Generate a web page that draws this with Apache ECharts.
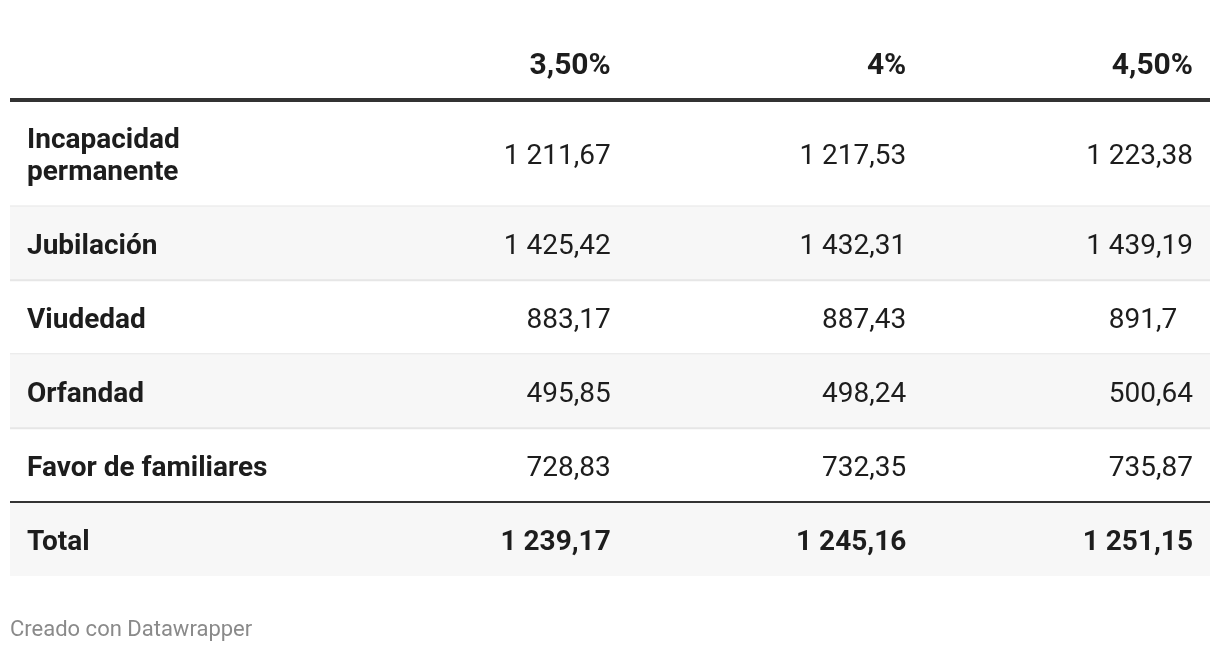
<!DOCTYPE html>
<html>
<head>
<meta charset="utf-8">
<script src="https://cdn.jsdelivr.net/npm/echarts@6/dist/echarts.min.js"></script>
<style>
  html, body { margin: 0; background: #fff; }
  #chart { width: 1220px; height: 652px; }
</style>
</head>
<body>
<div id="chart"></div>
<script>
// datos de la tabla
const columns = ['3,50%', '4%', '4,50%'];
const rowLabels = ['Incapacidad\npermanente', 'Jubilación', 'Viudedad', 'Orfandad', 'Favor de familiares'];
const rate350 = [1211.67, 1425.42, 883.17, 495.85, 728.83];
const rate400 = [1217.53, 1432.31, 887.43, 498.24, 732.35];
const rate450 = [1223.38, 1439.19, 891.7, 500.64, 735.87];
const totalLabel = 'Total';
const totals = [1239.17, 1245.16, 1251.15];
const footerText = 'Creado con Datawrapper';

// formato español: "1 211,67"; decimales alineados con espacio de cifra
const fmt = v => {
  const [i, d = ''] = String(v).split('.');
  return i.replace(/\B(?=(\d{3})+(?!\d))/g, ' ') + (d ? ',' + d : '') + '\u2007'.repeat(Math.max(0, 2 - d.length));
};

const tableRows = [
  { label: '', values: columns, kind: 'header' },
  ...rowLabels.map((l, i) => ({ label: l, values: [rate350[i], rate400[i], rate450[i]].map(fmt), kind: 'body' })),
  { label: totalLabel, values: totals.map(fmt), kind: 'total' }
];

// anchos relativos de columnas y altos de filas (según líneas de texto)
const colWeights = [1.09, 1, 1, 0.97];
const colEdges = [0];
colWeights.forEach(w => colEdges.push(colEdges[colEdges.length - 1] + w));
const rowUnits = tableRows.map(r => 1 + (r.label.split('\n').length - 1) * 0.44);
const rowEdges = [0];
rowUnits.forEach(u => rowEdges.push(rowEdges[rowEdges.length - 1] + u));

const FONT = 'Roboto';
const PAD = 17;

// celdas
const cellData = [];
tableRows.forEach((r, ri) => {
  if (r.label) cellData.push({ value: [0, ri], text: r.label, bold: true, align: 'left', kind: r.kind });
  r.values.forEach((v, ci) => {
    cellData.push({ value: [ci + 1, ri], text: v, bold: r.kind !== 'body', align: 'right', kind: r.kind });
  });
});

const rowData = tableRows.map((r, ri) => ({ value: [0, ri], kind: r.kind, stripe: r.kind === 'body' && (ri - 1) % 2 === 1 }));

const chart = echarts.init(document.getElementById('chart'));

const option = {
  animation: false,
  grid: { left: 10, right: 10, top: 26, bottom: 76 },
  xAxis: { type: 'value', min: 0, max: colEdges[colEdges.length - 1], show: false },
  yAxis: { type: 'value', min: 0, max: rowEdges[rowEdges.length - 1], inverse: true, show: false },
  graphic: [{
    type: 'text',
    left: 10,
    top: 619,
    style: { text: footerText, fill: '#8a8a8a', font: '22px ' + FONT }
  }],
  series: [
    {
      // fondos de filas y líneas separadoras
      type: 'custom',
      coordinateSystem: 'cartesian2d',
      data: rowData,
      renderItem: (params, api) => {
        const item = rowData[params.dataIndex];
        const ri = item.value[1];
        const p0 = api.coord([colEdges[0], rowEdges[ri]]);
        const p1 = api.coord([colEdges[colEdges.length - 1], rowEdges[ri + 1]]);
        const children = [];
        if (item.stripe || item.kind === 'total') {
          children.push({ type: 'rect', shape: { x: p0[0], y: p0[1], width: p1[0] - p0[0], height: p1[1] - p0[1] }, style: { fill: '#f7f7f7' } });
        }
        if (item.kind === 'header') {
          children.push({ type: 'line', shape: { x1: p0[0], y1: p1[1], x2: p1[0], y2: p1[1] }, style: { stroke: '#333333', lineWidth: 4 } });
        } else if (item.kind === 'body' && ri < tableRows.length - 2) {
          children.push({ type: 'line', shape: { x1: p0[0], y1: p1[1], x2: p1[0], y2: p1[1] }, style: { stroke: '#e6e6e6', lineWidth: 2 } });
        } else if (item.kind === 'total') {
          children.push({ type: 'line', shape: { x1: p0[0], y1: p0[1], x2: p1[0], y2: p0[1] }, style: { stroke: '#333333', lineWidth: 2 } });
        }
        return { type: 'group', children };
      },
      silent: true,
      z: 1
    },
    {
      // textos de celdas
      type: 'custom',
      coordinateSystem: 'cartesian2d',
      data: cellData,
      renderItem: (params, api) => {
        const c = cellData[params.dataIndex];
        const [ci, ri] = c.value;
        const p0 = api.coord([colEdges[ci], rowEdges[ri]]);
        const p1 = api.coord([colEdges[ci + 1], rowEdges[ri + 1]]);
        const x = c.align === 'left' ? p0[0] + PAD : p1[0] - PAD;
        const size = c.kind === 'header' ? 30 : 28;
        return {
          type: 'text',
          style: {
            x: x,
            y: (p0[1] + p1[1]) / 2 + 4,
            text: c.text,
            align: c.align,
            verticalAlign: 'middle',
            fill: '#1d1d1d',
            font: (c.bold ? 'bold ' : '') + size + 'px ' + FONT,
            lineHeight: 32
          }
        };
      },
      silent: true,
      z: 2
    }
  ]
};

chart.setOption(option);
</script>
</body>
</html>
